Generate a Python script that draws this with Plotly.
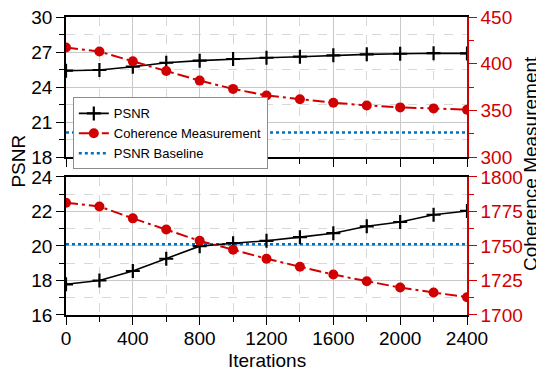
import plotly.graph_objects as go

iterations = [0, 200, 400, 600, 800, 1000, 1200, 1400, 1600, 1800, 2000, 2200, 2400]

psnr_top = [25.4, 25.46, 25.74, 26.08, 26.26, 26.4, 26.51, 26.6, 26.72, 26.8, 26.85, 26.9, 26.88]
coh_top = [417.4, 413.0, 402.5, 392.2, 381.9, 373.0, 366.0, 362.0, 358.2, 355.3, 353.2, 352.1, 350.7]

psnr_bot = [17.78, 18.0, 18.55, 19.26, 19.99, 20.16, 20.3, 20.51, 20.74, 21.14, 21.39, 21.81, 22.03]
coh_bot = [1781.3, 1778.6, 1770.0, 1761.9, 1753.7, 1747.3, 1740.8, 1735.0, 1729.3, 1724.5, 1719.9, 1716.3, 1712.9]

psnr_baseline = 20.1

FONT = "Liberation Sans, Arial, sans-serif"
RED = "#d00000"
BLUE = "#0070c0"
BLACK = "#000000"
GRID = "#c8c8c8"
MGRID = "#d8d8d8"
DASHDOT = "12px,4px,3px,4px"

fig = go.Figure()

def add_panel(xa, ya, yr, psnr, coh, show):
    fig.add_trace(go.Scatter(
        x=iterations, y=[psnr_baseline] * len(iterations), xaxis=xa, yaxis=ya,
        mode="lines", name="PSNR Baseline", showlegend=False,
        line=dict(color=BLUE, width=2.5, dash="dot")))
    fig.add_trace(go.Scatter(
        x=iterations, y=psnr, xaxis=xa, yaxis=ya, mode="lines+markers",
        name="PSNR", showlegend=show, legendrank=1,
        line=dict(color=BLACK, width=1.6),
        marker=dict(symbol="cross-thin", size=10, line=dict(color=BLACK, width=2.2))))
    fig.add_trace(go.Scatter(
        x=iterations, y=coh, xaxis=xa, yaxis=yr, mode="lines+markers",
        name="Coherence Measurement", showlegend=show, legendrank=2,
        line=dict(color=RED, width=2, dash=DASHDOT),
        marker=dict(symbol="circle", size=10, color=RED)))

add_panel("x", "y", "y3", psnr_top, coh_top, True)
add_panel("x2", "y2", "y4", psnr_bot, coh_bot, False)

# legend-only baseline entry
fig.add_trace(go.Scatter(
    x=[None], y=[None], xaxis="x", yaxis="y", mode="lines", name="PSNR Baseline",
    legendrank=3, line=dict(color=BLUE, width=2.5, dash="dot")))

tickfont = dict(family=FONT, size=19, color=BLACK)
redfont = dict(family=FONT, size=19, color=RED)

xcommon = dict(
    range=[0, 2400], dtick=400, tick0=0, showgrid=True, gridcolor=GRID, gridwidth=1,
    showline=True, linecolor=BLACK, linewidth=1.5, mirror=True, automargin=False,
    ticks="outside", ticklen=8, tickwidth=1.2, tickcolor=BLACK, zeroline=False,
    ticklabeloverflow="allow", ticklabelstandoff=-3,
    minor=dict(dtick=200, showgrid=True, gridcolor=MGRID, griddash="dash", gridwidth=1,
               ticks="outside", ticklen=5, tickcolor=BLACK, tickwidth=1.2),
    tickfont=tickfont,
)

ycommon = dict(
    showgrid=True, gridcolor=GRID, gridwidth=1, showline=True, linecolor=BLACK, linewidth=1.5,
    ticks="outside", ticklen=8, tickwidth=1.2, tickcolor=BLACK, zeroline=False, automargin=False,
    ticklabeloverflow="allow",
    tickfont=tickfont,
)

rcommon = dict(
    showgrid=False, showline=True, linecolor=RED, linewidth=1.5, side="right", automargin=False,
    ticks="outside", ticklen=8, tickwidth=1.2, tickcolor=RED, zeroline=False,
    ticklabeloverflow="allow",
    tickfont=redfont,
)

# The page shows the figure offset by 8px (body margin), so the figure is
# made 8px smaller and its margins reduced accordingly.
fig.update_layout(
    width=536, height=363,
    margin=dict(l=58, r=77, t=9, b=56, autoexpand=False),
    paper_bgcolor="white", plot_bgcolor="white",
    font=dict(family=FONT, size=19, color=BLACK),
    xaxis=dict(**xcommon, anchor="y", showticklabels=False),
    xaxis2=dict(**xcommon, anchor="y2", matches="x"),
    yaxis=dict(**ycommon, domain=[0.53, 1.0], range=[18, 30], dtick=3, tick0=18,
               minor=dict(dtick=1.5, tick0=18, showgrid=True, gridcolor=MGRID, griddash="dash",
                          ticks="outside", ticklen=5, tickcolor=BLACK, tickwidth=1.2)),
    yaxis2=dict(**ycommon, domain=[0.0, 0.4633], range=[16, 24], dtick=2, tick0=16,
                minor=dict(dtick=1, tick0=16, showgrid=True, gridcolor=MGRID, griddash="dash",
                           ticks="outside", ticklen=5, tickcolor=BLACK, tickwidth=1.2)),
    yaxis3=dict(**rcommon, overlaying="y", anchor="x", range=[300, 450], dtick=50, tick0=300,
                minor=dict(dtick=25, tick0=300, ticks="outside", ticklen=5, tickcolor=RED, tickwidth=1.2)),
    yaxis4=dict(**rcommon, overlaying="y2", anchor="x2", range=[1700, 1800], dtick=25, tick0=1700,
                minor=dict(dtick=12.5, tick0=1700, ticks="outside", ticklen=5, tickcolor=RED, tickwidth=1.2)),
    legend=dict(x=0.017, y=0.73, xanchor="left", yanchor="top",
                bgcolor="white", bordercolor="#8c8c8c", borderwidth=1,
                font=dict(family=FONT, size=13, color=BLACK),
                tracegroupgap=0, itemwidth=30),
    showlegend=True,
    annotations=[
        dict(text="PSNR", xref="paper", yref="paper", x=-0.118, y=0.517,
             xanchor="center", yanchor="middle", textangle=-90, showarrow=False,
             font=dict(family=FONT, size=19, color=BLACK)),
        dict(text="Coherence Measurement", xref="paper", yref="paper", x=1.16, y=0.507,
             xanchor="center", yanchor="middle", textangle=-90, showarrow=False,
             font=dict(family=FONT, size=19, color=BLACK)),
        dict(text="Iterations", xref="paper", yref="paper", x=0.5, y=-0.153,
             xanchor="center", yanchor="middle", showarrow=False,
             font=dict(family=FONT, size=19, color=BLACK)),
    ],
)

fig.write_html("out.html")
